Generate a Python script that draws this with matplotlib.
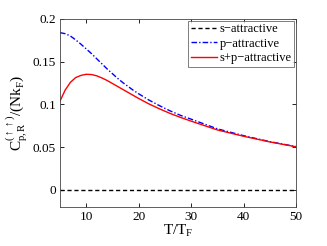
import matplotlib
matplotlib.use("Agg")
import matplotlib.pyplot as plt
from matplotlib.ticker import FixedLocator, FixedFormatter

plt.rcParams['font.family'] = ['Liberation Serif', 'DejaVu Serif']
plt.rcParams['mathtext.fontset'] = 'custom'
plt.rcParams['mathtext.rm'] = 'Liberation Serif'
plt.rcParams['mathtext.it'] = 'Liberation Serif'
plt.rcParams['mathtext.bf'] = 'Liberation Serif'

T_s = [5, 50]
s_attr = [0.0, 0.0]

T_p = [5, 6, 7, 8, 9, 10, 11, 12, 13, 14, 15, 16, 17, 18, 19, 20, 22, 24, 26, 28, 30,
       35, 40, 45, 50]
p_attr = [0.184, 0.1828, 0.180, 0.1755, 0.1705, 0.165, 0.1595, 0.1535, 0.1475, 0.1415,
          0.136, 0.1305, 0.1255, 0.121, 0.1165, 0.1125, 0.105, 0.0985, 0.0925, 0.0872,
          0.0828, 0.0715, 0.0635, 0.0565, 0.0507]

T_sp = [5, 6, 7, 8, 9, 10, 11, 12, 13, 14, 15, 16, 17, 18, 19, 20, 22, 24, 26, 28, 30,
        35, 40, 45, 50]
sp_attr = [0.104, 0.117, 0.126, 0.1315, 0.134, 0.1353, 0.135, 0.1335, 0.131, 0.128,
           0.1245, 0.121, 0.1175, 0.114, 0.1105, 0.107, 0.1005, 0.0948, 0.0895, 0.0848,
           0.0805, 0.0702, 0.0628, 0.0562, 0.0505]

xticks = [10, 20, 30, 40, 50]
yticks = [0, 0.05, 0.1, 0.15, 0.2]
ytick_labels = ['0', '0.05', '0.1', '0.15', '0.2']

fig = plt.figure(figsize=(3.27, 2.46), dpi=100)
ax = fig.add_axes([0.1835, 0.1585, 0.7215, 0.7643])

ax.plot(T_s, s_attr, color='black', linestyle=(0, (3, 2)), lw=1.0, label='s\u2212attractive')
ax.plot(T_p, p_attr, color='#0000ff', linestyle=(0, (4, 1.5, 1, 1.5)), lw=1.0, label='p\u2212attractive')
ax.plot(T_sp, sp_attr, color='red', linestyle='-', lw=1.0, label='s+p\u2212attractive')

ax.set_xlim(5, 50)
ax.set_ylim(-0.02, 0.2)
ax.xaxis.set_major_locator(FixedLocator(xticks))
ax.yaxis.set_major_locator(FixedLocator(yticks))
ax.yaxis.set_major_formatter(FixedFormatter(ytick_labels))
ax.tick_params(direction='in', top=True, right=True, labelsize=9.5, length=3, width=0.6, pad=3)
for sp in ax.spines.values():
    sp.set_linewidth(0.6)
    sp.set_color('#444444')

ax.set_xlabel('T/T$_\\mathrm{F}$', fontsize=11, labelpad=0)
ax.set_ylabel('C$^{(\\uparrow\\uparrow)}_{\\mathrm{p,R}}$/(Nk$_\\mathrm{F}$)', fontsize=11, labelpad=2)

leg = ax.legend(loc='upper right', fontsize=9, frameon=True, fancybox=False,
                borderpad=0.2, labelspacing=0.2, handlelength=2.1, handletextpad=0.2,
                borderaxespad=0.15)
leg.get_frame().set_edgecolor('#444444')
leg.get_frame().set_linewidth(0.6)

fig.savefig('out.png', dpi=100)
